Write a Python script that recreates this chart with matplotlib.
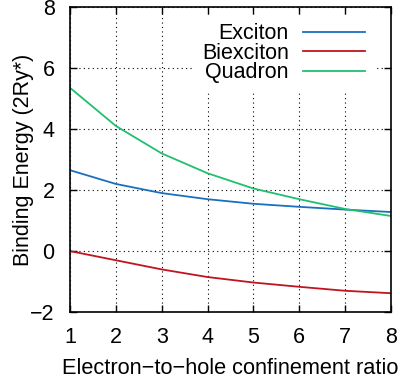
import matplotlib
matplotlib.use("Agg")
import matplotlib.pyplot as plt

# confinement ratio and binding energies (units of 2Ry*)
ratio = [1, 2, 3, 4, 5, 6, 7, 8]
exciton = [2.65, 2.2, 1.9, 1.7, 1.55, 1.45, 1.36, 1.28]
biexciton = [0.0, -0.3, -0.6, -0.85, -1.03, -1.17, -1.3, -1.38]
quadron = [5.35, 4.1, 3.2, 2.55, 2.05, 1.7, 1.38, 1.15]

plt.rcParams["font.family"] = ["Liberation Sans", "DejaVu Sans"]
fs = 15.5

fig = plt.figure(figsize=(4.0, 3.83), dpi=100)
ax = fig.add_axes([0.175, 0.185, 0.8025, 0.797])

ax.plot(ratio, exciton, color="#1a6fbf", lw=1.3, label="Exciton")
ax.plot(ratio, biexciton, color="#c0141e", lw=1.3, label="Biexciton")
ax.plot(ratio, quadron, color="#20bf70", lw=1.3, label="Quadron")

ax.set_xlim(1, 8)
ax.set_ylim(-2, 8)
ax.set_xticks(ratio)
ax.set_yticks([-2, 0, 2, 4, 6, 8])
ax.grid(True, color="black", linestyle=(0, (1, 3)), linewidth=0.8)
ax.tick_params(direction="in", top=True, right=True, length=5, width=1,
               labelsize=fs, pad=11)
for spine in ax.spines.values():
    spine.set_linewidth(1.2)

# the label runs past the right edge, as in the original figure
ax.set_xlabel("Electron\u2212to\u2212hole confinement ratio", fontsize=15.7, labelpad=7)
ax.set_ylabel("Binding Energy (2Ry*)", fontsize=fs, labelpad=-3)

leg = ax.legend(loc="upper right", bbox_to_anchor=(0.947, 0.975),
                markerfirst=False, fontsize=fs,
                handlelength=2.9, handletextpad=0.65, labelspacing=-0.07,
                borderaxespad=0.0, frameon=True, fancybox=False)
leg.get_frame().set_facecolor("white")
leg.get_frame().set_edgecolor("white")
leg.get_frame().set_alpha(1)

fig.savefig("out.png", dpi=100)
